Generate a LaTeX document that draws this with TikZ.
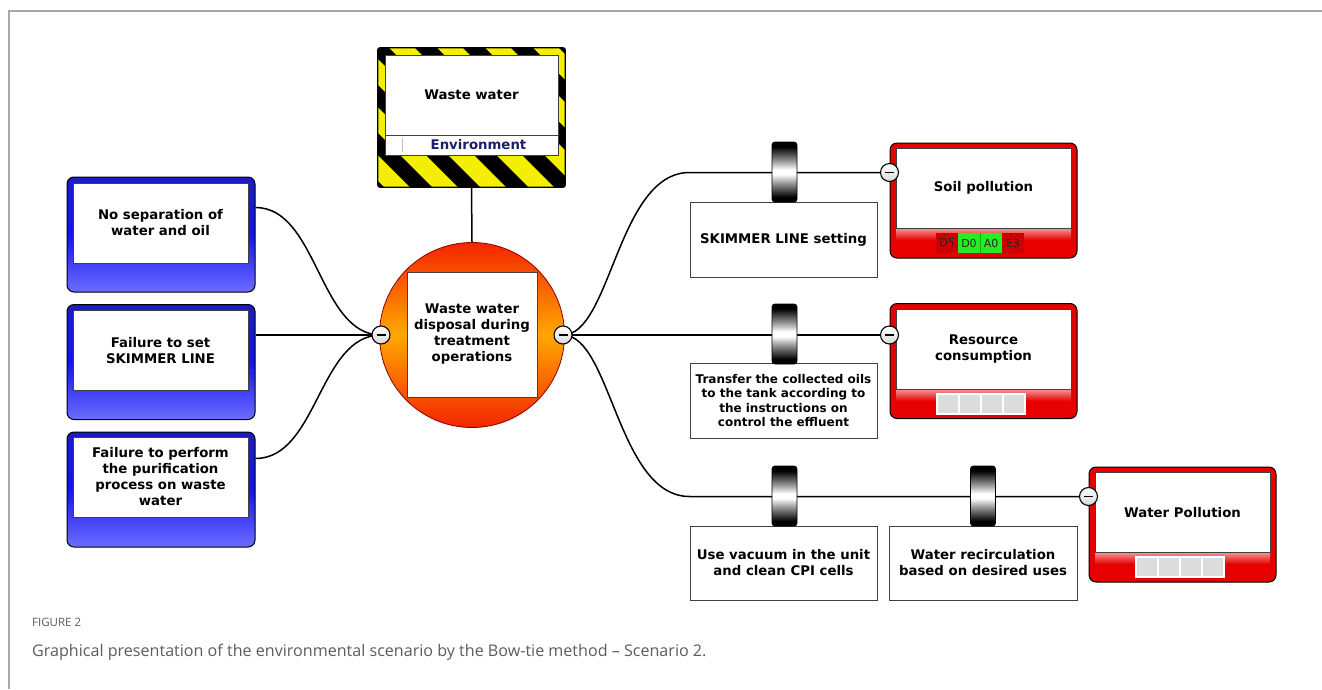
\documentclass[tikz,border=0pt]{standalone}
\usepackage{fontspec}
\setmainfont{DejaVu Sans}
\newfontfamily\capfont{Open Sans}
\usetikzlibrary{calc}
\pgfdeclarelayer{paper}
\pgfdeclarelayer{bg}
\pgfsetlayers{paper,bg,main}

\definecolor{framegray}{HTML}{A8A8A8}
\definecolor{capgray}{HTML}{5C5C5C}
\definecolor{hzyellow}{HTML}{F4EE00}
\definecolor{bluetop}{HTML}{1C1CC4}
\definecolor{bluemid}{HTML}{1414EE}
\definecolor{bluelow}{HTML}{6C6CFF}
\definecolor{conred}{HTML}{E60000}
\definecolor{envnavy}{HTML}{1E1E70}
\definecolor{cellred}{HTML}{CC0000}
\definecolor{cellgreen}{HTML}{22EE22}
\definecolor{cellgray}{HTML}{DCDCDC}
\definecolor{topred}{HTML}{F42400}
\definecolor{toporange}{HTML}{FFA800}

\newcommand\lblfont{\bfseries\fontsize{13.3}{16}\selectfont}
\newcommand\smlblfont{\bfseries\fontsize{12}{14.4}\selectfont}

% barrier body: dark at both ends, bright in the middle
\pgfdeclareverticalshading{barrel}{100bp}{color(0bp)=(black); color(29bp)=(black);
  color(40bp)=(black!45); color(48bp)=(white); color(52bp)=(white);
  color(60bp)=(black!45); color(71bp)=(black); color(100bp)=(black)}

\tikzset{
  conn/.style={draw=black, line width=1.5pt},
  panel/.style={draw=black!75, line width=0.8pt, fill=white, inner sep=0pt,
    align=center, font=\lblfont},
  threat/.style={draw=black, line width=1pt, rounded corners=7pt,
    top color=bluetop, bottom color=bluelow, middle color=bluemid,
    minimum width=188pt, minimum height=115pt, inner sep=0pt},
  conseq/.style={draw=black, line width=1pt, rounded corners=7pt, fill=conred,
    minimum width=187pt, minimum height=115pt, inner sep=0pt},
  cpanel/.style={panel, minimum width=175pt, minimum height=80pt},
  topevent/.style={circle, draw=red!55!black, line width=0.8pt,
    top color=topred, bottom color=topred, middle color=toporange,
    minimum size=185pt, inner sep=0pt},
  minus/.style={circle, draw=black, line width=1.1pt, top color=white,
    bottom color=gray!30, minimum size=18pt, inner sep=0pt,
    path picture={\draw[line width=1.7pt]
      ([xshift=-4.5pt]path picture bounding box.center) --
      ([xshift=4.5pt]path picture bounding box.center);}},
  barrier/.style={draw=black, line width=0.8pt, rounded corners=3pt,
    shading=barrel, minimum width=25pt, minimum height=60pt, inner sep=0pt},
  ctrlbox/.style={panel, minimum width=187pt, minimum height=75pt},
  cell/.style={minimum width=22pt, minimum height=20pt, inner sep=0pt,
    font=\fontsize{11}{11}\selectfont, text=black!85},
  graycell/.style={cell, fill=cellgray, draw=white, line width=1.8pt},
}

\begin{document}
\begin{tikzpicture}[x=1pt,y=-1pt]
\useasboundingbox (0,0) rectangle (1322,689);
\begin{pgfonlayer}{paper}
  \fill[white] (0,0) rectangle (1322,689);
\end{pgfonlayer}

% page frame
\draw[framegray, line width=1.5pt] (9,689) -- (9,11) -- (1322,11);

% ---------- hazard ----------
\node[minimum width=187pt, minimum height=139pt, inner sep=0pt] (hz) at (471.5,117.5) {};
\begin{scope}
  \clip[rounded corners=2pt] (hz.north west) rectangle (hz.south east);
  \fill[hzyellow] (hz.north west) rectangle (hz.south east);
  \foreach \k in {0,...,9}{
    \pgfmathsetmacro\a{223+48*\k}
    \fill[black] (\a,48) -- (\a+22,48) -- (\a+161,187) -- (\a+139,187) -- cycle;
  }
\end{scope}
\draw[line width=1.2pt, rounded corners=2pt] (hz.north west) rectangle (hz.south east);
\node[panel, minimum width=173pt, minimum height=80pt] (hzp) at (471.5,95) {Waste water};
\node[panel, minimum width=173pt, minimum height=20pt, text=envnavy] (hze) at (471.5,145) {\hspace*{14pt}Environment};
\draw[black!25, line width=1.2pt] ([xshift=18pt,yshift=-3pt]hze.north west) -- ([xshift=18pt,yshift=3pt]hze.south west);

% ---------- top event ----------
\node[topevent] (te) at (472,335) {};
\node[panel, minimum width=130pt, minimum height=125pt] (tep) at (472,334.5)
  {Waste water\\disposal during\\treatment\\operations};
\node[minus] (m1) at (381,335) {};
\node[minus] (m2) at (563,335) {};

% ---------- threats ----------
\node[threat] (t1) at (161,234.5) {};
\node[cpanel] (t1p) at (160.5,223) {No separation of\\water and oil};
\node[threat] (t2) at (161,362) {};
\node[cpanel] (t2p) at (160.5,350.5) {Failure to set\\SKIMMER LINE};
\node[threat] (t3) at (161,489.5) {};
\node[cpanel] (t3p) at (160.5,477) {Failure to perform\\the purification\\process on waste\\water};

% ---------- consequences ----------
\node[conseq] (c1) at (983.5,200.5) {};
\shade[top color=white!60!conred, bottom color=conred] (983.5-87.5,228) rectangle (983.5+87.5,240);
\node[cpanel] (c1p) at (983.5,188) {Soil pollution};
\node[cell, fill=cellred]   (c1a) at (947,243)  {D5};
\node[cell, fill=cellgreen] (c1b) at (969,243)  {D0};
\node[cell, fill=cellgreen] (c1c) at (991,243)  {A0};
\node[cell, fill=cellred]   (c1d) at (1013,243) {E3};
\draw[black!30!cellgreen, line width=0.6pt] (c1b.north east) -- (c1b.south east);

\node[conseq] (c2) at (983.5,361) {};
\shade[top color=white!60!conred, bottom color=conred] (983.5-87.5,389) rectangle (983.5+87.5,401);
\node[cpanel] (c2p) at (983.5,349.5) {Resource\\consumption};
\node[graycell] (c2a) at (948,404)  {};
\node[graycell] (c2b) at (970,404)  {};
\node[graycell] (c2c) at (992,404)  {};
\node[graycell] (c2d) at (1014,404) {};

\node[conseq] (c3) at (1182.5,524.5) {};
\shade[top color=white!60!conred, bottom color=conred] (1182.5-87.5,552) rectangle (1182.5+87.5,564);
\node[cpanel] (c3p) at (1182.5,512.5) {Water Pollution};
\node[graycell] (c3a) at (1147,567) {};
\node[graycell] (c3b) at (1169,567) {};
\node[graycell] (c3c) at (1191,567) {};
\node[graycell] (c3d) at (1213,567) {};

\node[minus] (m3) at ([yshift=-30pt]c1.north west) {};
\node[minus] (m4) at (c2.west |- m2.center) {};
\node[minus] (m5) at ([yshift=-30pt]c3.north west) {};

% ---------- barriers ----------
\node[ctrlbox] (s1) at (783.5,239.5) {SKIMMER LINE setting};
\node[ctrlbox, font=\smlblfont] (s2) at (783.5,400.5)
  {Transfer the collected oils\\to the tank according to\\the instructions on\\control the effluent};
\node[ctrlbox, minimum height=74pt] (s3) at (783.5,563) {Use vacuum in the unit\\and clean CPI cells};
\node[ctrlbox, minimum height=74pt, minimum width=188pt] (s4) at (983,563) {Water recirculation\\based on desired uses};

\node[barrier] (b1) at (784.5,172) {};
\node[barrier] (b2) at (784.5,334) {};
\node[barrier] (b3) at (784.5,496) {};
\node[barrier] (b4) at (983,496) {};

% ---------- connectors ----------
\begin{pgfonlayer}{bg}
  \draw[conn] (hz.south) -- (te.north);
  \draw[conn] ([yshift=-31pt]t1.north east) .. controls +(62,0) and +(-62,0) .. (m1.center);
  \draw[conn] (t2.east |- m1.center) -- (m1.center);
  \draw[conn] ([yshift=-27pt]t3.north east) .. controls +(62,0) and +(-62,0) .. (m1.center);
  \draw[conn] (m2.center) .. controls +(48,0) and +(-72,0) .. (s1.north west |- m3.center) -- (m3.center);
  \draw[conn] (m2.center) -- (m4.center);
  \draw[conn] (m2.center) .. controls +(48,0) and +(-72,0) .. (s3.north west |- m5.center) -- (m5.center);
\end{pgfonlayer}

% ---------- caption ----------
\node[anchor=base west, inner sep=0pt, text=capgray, font=\capfont\fontsize{11.5}{13}\selectfont]
  (fig) at (32,626) {FIGURE 2};
\node[anchor=base west, inner sep=0pt, text=capgray, font=\capfont\fontsize{16.1}{18}\selectfont]
  (cap) at (32,656) {Graphical presentation of the environmental scenario by the Bow-tie method – Scenario 2.};
\end{tikzpicture}
\end{document}
